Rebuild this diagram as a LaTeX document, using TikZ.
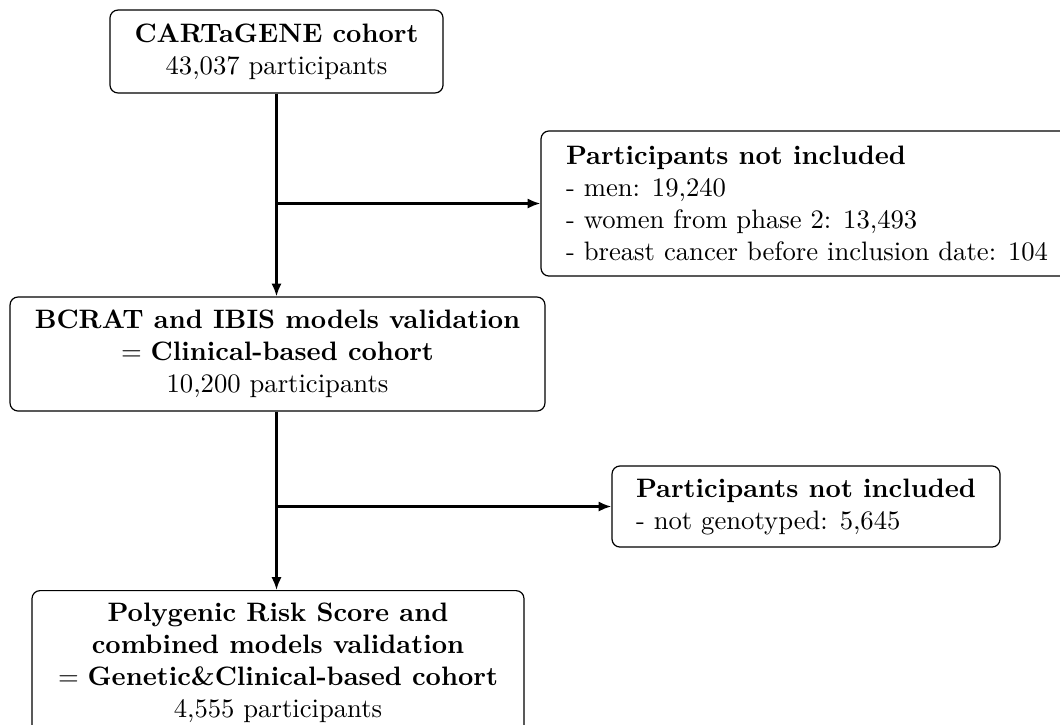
\documentclass[tikz,border=0pt]{standalone}
\usetikzlibrary{arrows.meta}
\begin{document}
\begin{tikzpicture}[x=0.375pt,y=-0.375pt,
  box/.style={draw, rounded corners=3pt, line width=0.45pt, inner xsep=6pt, inner ysep=4.5pt, font=\normalsize},
  conn/.style={line width=0.85pt},
  arr/.style={conn, -{Latex[length=4.8pt,width=3.8pt]}}]
\useasboundingbox (0,0) rectangle (1060,724);
\node[box, align=center, minimum width=124.9pt, minimum height=31.1pt] (b1) at (276.5,51.5)
  {\textbf{CARTaGENE cohort}\\43,037 participants};
\node[box, align=left, minimum width=199.5pt, minimum height=54.4pt] (b3) at (807,203.5)
  {\textbf{Participants not included}\\- men: 19,240\\- women from phase 2: 13,493\\- breast cancer before inclusion date: 104};
\node[box, align=center, minimum width=200.6pt, minimum height=42.75pt] (b2) at (277.5,354)
  {\textbf{BCRAT and IBIS models validation}\\$=$ \textbf{Clinical-based cohort}\\10,200 participants};
\node[box, align=left, minimum width=145.5pt, minimum height=30.4pt] (b5) at (806,506.5)
  {\textbf{Participants not included}\\- not genotyped: 5,645};
\node[box, align=center, minimum width=184.5pt, anchor=north] (b4) at (278,590)
  {\textbf{Polygenic Risk Score and}\\\textbf{combined models validation}\\$=$ \textbf{Genetic\&Clinical-based cohort}\\4,555 participants};
\coordinate (j1) at (b1.south |- b3.west);
\coordinate (j2) at (b1.south |- b5.west);
\draw[arr] (b1.south) -- (b1.south |- b2.north);
\draw[arr] (j1) -- (b3.west);
\draw[arr] (b1.south |- b2.south) -- (b1.south |- b4.north);
\draw[arr] (j2) -- (b5.west);
\end{tikzpicture}
\end{document}
